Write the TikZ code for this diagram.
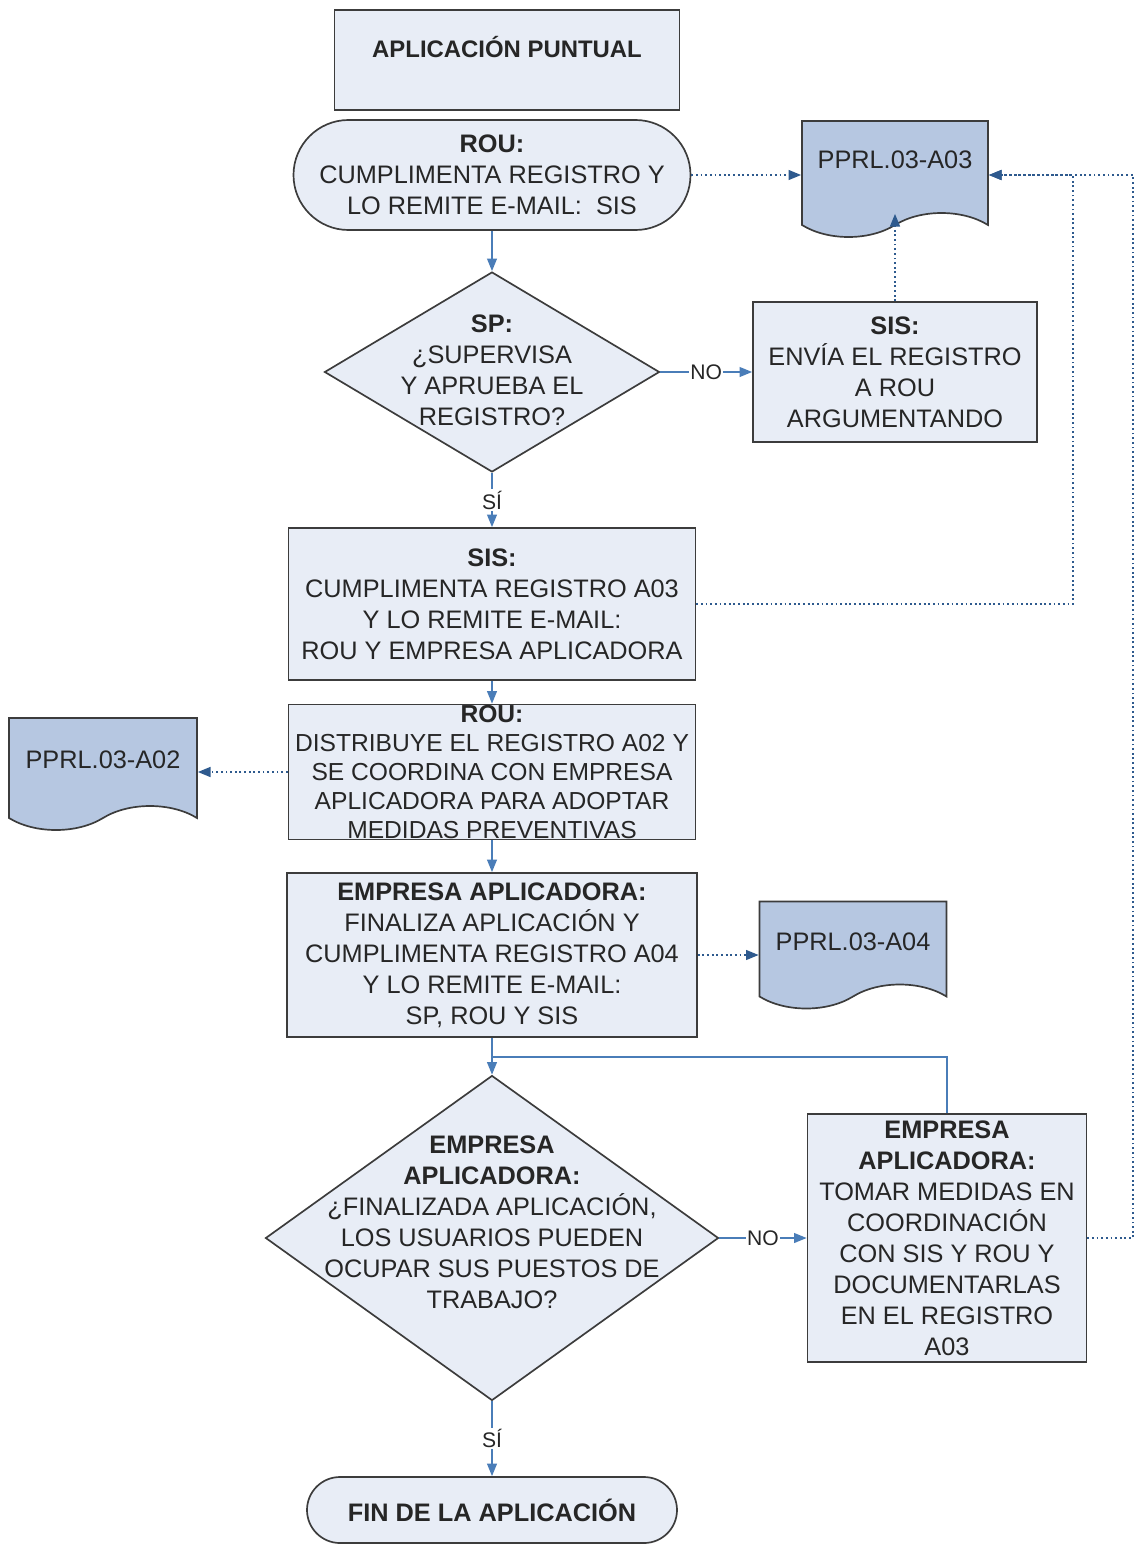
\documentclass[tikz,border=0pt]{standalone}
\usepackage{fontspec}
\setmainfont{Liberation Sans}
\usepackage{tikz}
\usetikzlibrary{arrows.meta}
\usetikzlibrary{shapes.geometric,shapes.misc,shapes.symbols}

\definecolor{pale}{HTML}{E8EDF6}
\definecolor{docblue}{HTML}{B6C7E1}
\definecolor{edge}{HTML}{3C3C3C}
\definecolor{flowblue}{HTML}{4A7DB8}
\definecolor{linkblue}{HTML}{2E5A8E}
\newcommand{\pxu}{0.025cm}

\begin{document}
\begin{tikzpicture}[x=0.025cm,y=-0.025cm,
  every node/.style={font=\fontsize{18}{22}\selectfont,text=black!85},
  box/.style 2 args={rectangle,draw=edge,fill=pale,line width=1.2pt,minimum width=#1*\pxu,minimum height=#2*\pxu,inner sep=0pt,align=center},
  term/.style 2 args={rounded rectangle,draw=edge,fill=pale,line width=1.2pt,minimum width=#1*\pxu,minimum height=#2*\pxu,inner sep=0pt,align=center},
  decision/.style 2 args={diamond,draw=edge,fill=pale,line width=1.2pt,minimum width=#1*\pxu,minimum height=#2*\pxu,inner sep=0pt},
  doc/.style 2 args={tape,tape bend top=none,tape bend bottom=in and out,tape bend height=0.6cm,draw=edge,fill=docblue,line width=1.2pt,minimum width=#1*\pxu,minimum height=#2*\pxu,inner sep=0pt},
  flow/.style={draw=flowblue,line width=1.2pt,-{Triangle[length=9pt,width=7pt]}},
  link/.style={draw=linkblue,line width=1.3pt,dotted,-{Triangle[length=9pt,width=7pt]}},
  answer/.style={fill=white,inner sep=1pt,font=\fontsize{15}{17}\selectfont}]

\useasboundingbox (0,0) rectangle (1137,1546);

\node[box={345}{100}] (title) at (507,60) {};
\node[font=\bfseries\fontsize{17}{20}\selectfont] (titletext) at (507,47) {APLICACIÓN PUNTUAL};

\node[term={397}{110}] (start) at (492,175) {\textbf{ROU:}\\CUMPLIMENTA REGISTRO Y\\LO REMITE E-MAIL:\ \ SIS};
\node[doc={186}{116}] (a03) at (895,167) {};
\node (a03text) at (895,160) {PPRL.03-A03};

\node[decision={335}{200}] (d1) at (492,372) {};
\node[align=center] (d1text) at (492,370) {\textbf{SP:}\\¿SUPERVISA\\Y APRUEBA EL\\REGISTRO?};
\node[box={284}{140}] (sisno) at (895,372) {\textbf{SIS:}\\ENVÍA EL REGISTRO\\A ROU\\ARGUMENTANDO};

\node[box={407}{152}] (sis) at (492,604) {\textbf{SIS:}\\CUMPLIMENTA REGISTRO A03\\Y LO REMITE E-MAIL:\\ROU Y EMPRESA APLICADORA};
\node[box={407}{135},font=\fontsize{17.5}{20.5}\selectfont] (rou) at (492,772) {\textbf{ROU:}\\DISTRIBUYE EL REGISTRO A02 Y\\SE COORDINA CON EMPRESA\\APLICADORA PARA ADOPTAR\\MEDIDAS PREVENTIVAS};
\node[doc={188}{112}] (a02) at (103,762) {};
\node (a02text) at (103,760) {PPRL.03-A02};

\node[box={410}{164}] (emp) at (492,955) {\textbf{EMPRESA APLICADORA:}\\FINALIZA APLICACIÓN Y\\CUMPLIMENTA REGISTRO A04\\Y LO REMITE E-MAIL:\\SP, ROU Y SIS};
\node[doc={187}{107}] (a04) at (853,943) {};
\node (a04text) at (853,942) {PPRL.03-A04};

\node[decision={453}{325}] (d2) at (492,1238) {};
\node[align=center] (d2text) at (492,1222) {\textbf{EMPRESA}\\\textbf{APLICADORA:}\\¿FINALIZADA APLICACIÓN,\\LOS USUARIOS PUEDEN\\OCUPAR SUS PUESTOS DE\\TRABAJO?};
\node[box={279}{248}] (medidas) at (947,1238) {\textbf{EMPRESA}\\\textbf{APLICADORA:}\\TOMAR MEDIDAS EN\\COORDINACIÓN\\CON SIS Y ROU Y\\DOCUMENTARLAS\\EN EL REGISTRO\\A03};

\node[term={370}{66}] (fin) at (492,1510) {\textbf{FIN DE LA APLICACIÓN}};

\coordinate (j1) at (1073,175);
\coordinate (j2) at (1133,175);
\coordinate (merge) at (492,1057);

\draw[flow] (start.south) -- (d1.north);
\draw[link] (start.east) -- (start.east -| a03.west);
\draw[flow] (d1.east) -- node[answer] {NO} (sisno.west);
\draw[link] (sisno.north) -- (a03.south);
\draw[flow] (d1.south) -- node[answer] {SÍ} (sis.north);
\draw[link] (sis.east) -| (j1) -- (j1 -| a03.east);
\draw[flow] (sis.south) -- (rou.north);
\draw[link] (rou.west) -- (rou.west -| a02.east);
\draw[flow] (rou.south) -- (emp.north);
\draw[link] (emp.east) -- (emp.east -| a04.west);
\draw[flow] (emp.south) -- (d2.north);
\draw[draw=flowblue,line width=1pt] (medidas.north) |- (merge);
\draw[flow] (d2.east) -- node[answer] {NO} (medidas.west);
\draw[link] (medidas.east) -| (j2) -- (j2 -| a03.east);
\draw[flow] (d2.south) -- node[answer] {SÍ} (fin.north);
\end{tikzpicture}
\end{document}
